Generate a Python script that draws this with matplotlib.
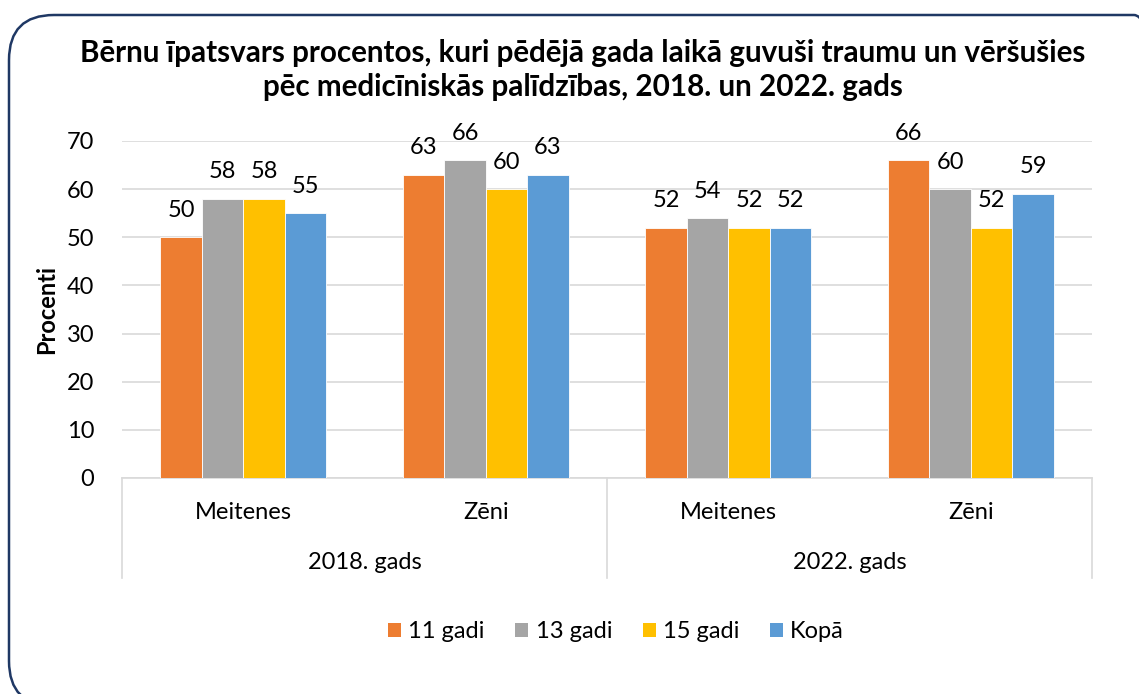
import numpy as np
import matplotlib
matplotlib.use('Agg')
import matplotlib.pyplot as plt
from matplotlib.patches import FancyBboxPatch, Patch
from matplotlib.transforms import IdentityTransform

plt.rcParams['font.family'] = ['Lato', 'DejaVu Sans']

# dati
groups = ['Meitenes', 'Zēni', 'Meitenes', 'Zēni']
years = ['2018. gads', '2022. gads']
series = ['11 gadi', '13 gadi', '15 gadi', 'Kopā']
v11 = [50, 63, 52, 66]
v13 = [58, 66, 54, 60]
v15 = [58, 60, 52, 52]
vkopa = [55, 63, 52, 59]
colors = ['#ED7D31', '#A5A5A5', '#FFC000', '#5B9BD5']

title = ('Bērnu īpatsvars procentos, kuri pēdējā gada laikā guvuši traumu un vēršušies\n'
         'pēc medicīniskās palīdzības, 2018. un 2022. gads')

fs = 17

fig = plt.figure(figsize=(11.39, 6.94), dpi=100)
ax = fig.add_axes([122/1139, 1-478/694, 970/1139, 337/694])

x = np.arange(len(groups))
w = 0.171
all_vals = [v11, v13, v15, vkopa]
for i, (vals, c, lab) in enumerate(zip(all_vals, colors, series)):
    pos = x + (i - 1.5) * w
    bars = ax.bar(pos, vals, width=w, color=c, edgecolor='white', linewidth=0.6, label=lab, zorder=3)
    for b, v in zip(bars, vals):
        ax.text(b.get_x() + b.get_width()/2, v + 5.6, str(v), ha='center', va='center',
                fontsize=fs, color='#000000')

ax.set_xlim(-0.5, 3.5)
ax.set_ylim(0, 70)
ax.set_yticks(range(0, 71, 10))
ax.tick_params(axis='y', length=0, labelsize=fs, pad=20)
ax.set_xticks([])
ax.yaxis.grid(True, color='#D9D9D9', linewidth=1.2, zorder=0)
for s in ['top', 'right', 'left']:
    ax.spines[s].set_visible(False)
ax.spines['bottom'].set_color('#D9D9D9')
ax.spines['bottom'].set_linewidth(1.2)

ax.set_ylabel('Procenti', fontsize=fs, fontweight='bold', labelpad=6)

# kategoriju ass ar diviem līmeņiem
for xi, g in zip(x, groups):
    ax.text(xi, -0.101, g, transform=ax.get_xaxis_transform(), ha='center', va='center', fontsize=fs)
for k, yr in enumerate(years):
    ax.text(2*k + 0.5, -0.252, yr, transform=ax.get_xaxis_transform(), ha='center', va='center', fontsize=fs)
for xs in [-0.5, 1.5, 3.5]:
    ax.plot([xs, xs], [0, -0.297], transform=ax.get_xaxis_transform(), color='#D9D9D9',
            linewidth=1.2, clip_on=False)

fig.text(583/1139, 1-70/694, title, ha='center', va='center', fontsize=21.3, fontweight='bold',
         linespacing=1.3)

handles = [Patch(facecolor=c, label=l) for c, l in zip(colors, series)]
fig.legend(handles=handles, loc='center', bbox_to_anchor=(616/1139, 1-632/694), ncol=4,
           frameon=False, fontsize=fs, handlelength=0.55, handleheight=0.55,
           handletextpad=0.3, columnspacing=1.3)

border = FancyBboxPatch((9, -12), 1170, 694 - 15 + 12, boxstyle='round,pad=0,rounding_size=45',
                        transform=IdentityTransform(), facecolor='none', edgecolor='#1F3864',
                        linewidth=1.8)
fig.patches.append(border)

fig.savefig('out.png', dpi=100)
